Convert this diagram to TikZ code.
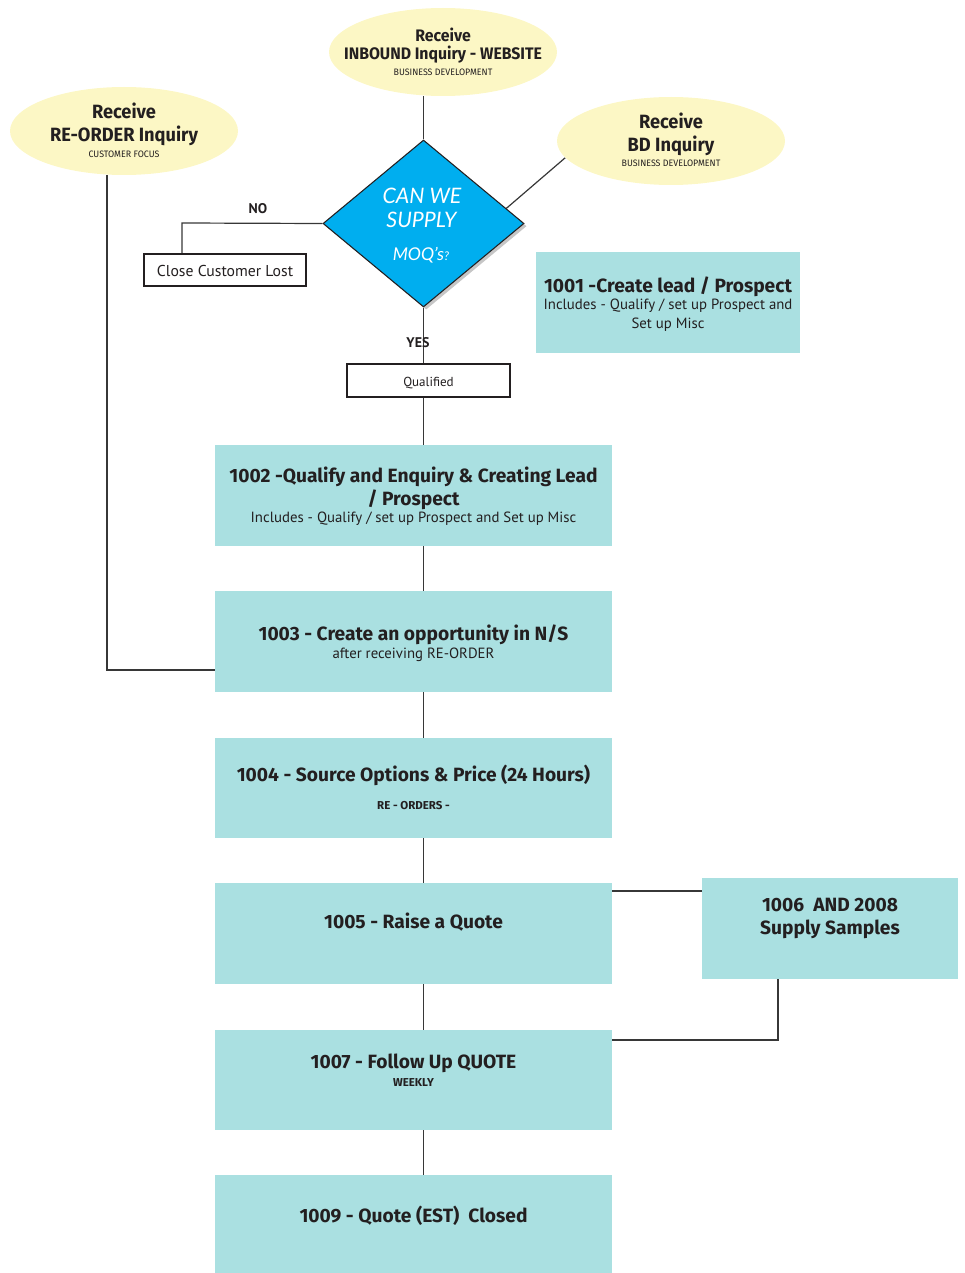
\documentclass[tikz,border=0pt]{standalone}
\usepackage{fontspec}
\setmainfont{PT Sans}
\newfontfamily\ttlfont{Fira Sans}
\newfontfamily\condfont[FakeStretch=0.95]{Fira Sans}
\newfontfamily\diafont{Lato}
\usetikzlibrary{shapes.geometric,shadows,backgrounds,calc}
\definecolor{boxc}{RGB}{170,224,225}
\definecolor{ellc}{RGB}{252,247,197}
\definecolor{diac}{RGB}{0,174,239}
\definecolor{ink}{RGB}{35,31,32}
\definecolor{linec}{RGB}{55,55,55}
\begin{document}
\begin{tikzpicture}[x=0.75pt,y=-0.75pt,
  every node/.style={text=ink},
  proc/.style={rectangle, fill=boxc, inner sep=0pt, minimum width=297.75pt, minimum height=75.75pt},
  ellnode/.style={ellipse, fill=ellc, inner sep=0pt, minimum width=171pt, minimum height=66pt},
  plainbox/.style={rectangle, draw=ink, line width=0.8pt, fill=white, inner sep=0pt},
  ttl/.style={anchor=base, inner sep=0pt, font={\ttlfont\fontsize{14.4}{17}\selectfont\bfseries}},
  sub/.style={anchor=base, inner sep=0pt, font={\fontsize{11.1}{13}\selectfont}},
  subb/.style={anchor=base, inner sep=0pt, font={\ttlfont\fontsize{8.6}{11}\selectfont\bfseries}},
  erecv/.style={anchor=base, inner sep=0pt, font={\condfont\fontsize{12.5}{15}\selectfont\bfseries}},
  ebig/.style={anchor=base, inner sep=0pt, font={\condfont\fontsize{12.5}{14}\selectfont\bfseries}},
  ebig2/.style={anchor=base, inner sep=0pt, font={\condfont\fontsize{14.4}{17}\selectfont\bfseries}},
  esmall/.style={anchor=base, inner sep=0pt, font={\condfont\fontsize{7}{9}\selectfont}},
  diatxt/.style={anchor=base, inner sep=0pt, text=white, font={\diafont\fontsize{16}{19}\selectfont\itshape}},
  lbl/.style={anchor=base, inner sep=0pt, font={\fontsize{10.5}{12}\selectfont\bfseries}},
  conn/.style={draw=linec, line width=0.9pt}
]
\useasboundingbox (0,0) rectangle (964,1273);

% ellipses
\node[ellnode] (inbound) at (443,52) {};
\node[ellnode] (reorder) at (124,131) {};
\node[ellnode] (bd) at (671,141) {};
\node[erecv] (t1a) at (443,42) {Receive};
\node[ebig] (t1b) at (443,59.5) {INBOUND Inquiry - WEBSITE};
\node[esmall] (t1c) at (443,76) {BUSINESS DEVELOPMENT};
\node[ebig2] (t2a) at (124,119) {Receive};
\node[ebig2] (t2b) at (124,142) {RE-ORDER Inquiry};
\node[esmall] (t2c) at (124,157.5) {CUSTOMER FOCUS};
\node[ebig2] (t3a) at (671,129) {Receive};
\node[ebig2] (t3b) at (671,151.5) {BD Inquiry};
\node[esmall] (t3c) at (671,166.5) {BUSINESS DEVELOPMENT};

% decision
\node[diamond, fill=diac, draw=ink, line width=0.8pt, inner sep=0pt,
      minimum width=150.75pt, minimum height=125.25pt,
      drop shadow={shadow xshift=2pt, shadow yshift=-2pt, opacity=0.45}] (dia) at (423.5,223.5) {};
\node[diatxt] (d1) at (422,203.3) {CAN WE};
\node[diatxt] (d2) at (421.5,227.3) {SUPPLY};
\node[diatxt] (d3) at (421,260) {\fontsize{13.2}{15}\selectfont MOQ’s{\fontsize{9}{10}\selectfont?}};

\node[lbl] (no) at (258,213.3) {NO};
\node[lbl] (yes) at (418,347.3) {YES};

\node[plainbox, minimum width=121.5pt, minimum height=24pt] (close) at (225,270) {};
\node[anchor=base, inner sep=0pt, font={\fontsize{11.8}{13}\selectfont}] (closet) at (225,276.5) {Close Customer Lost};
\node[plainbox, minimum width=122.25pt, minimum height=24.75pt] (qual) at (428.5,380.5) {};
\node[anchor=base, inner sep=0pt, font={\fontsize{9.8}{11}\selectfont}] (qualt) at (428.5,386) {Qualified};

% process boxes
\node[proc, minimum width=198pt] (b1001) at (668,302.5) {};
\node[ttl] (t1001) at (668,292.7) {1001 -Create lead / Prospect};
\node[sub] (s1001a) at (668,309) {Includes - Qualify / set up Prospect and};
\node[sub] (s1001b) at (668,328.7) {Set up Misc};

\node[proc] (b1002) at (413.5,495.5) {};
\node[ttl] (t1002a) at (413.5,482.7) {1002 -Qualify and Enquiry \& Creating Lead};
\node[ttl] (t1002b) at (413.5,505.7) {/ Prospect};
\node[sub] (s1002) at (413.5,522) {Includes - Qualify / set up Prospect and Set up Misc};

\node[proc] (b1003) at (413.5,641.5) {};
\node[ttl] (t1003) at (413.5,640) {1003 - Create an opportunity in N/S};
\node[sub] (s1003) at (413.5,658.7) {after receiving RE-ORDER};

\node[proc, minimum height=75pt] (b1004) at (413.5,788) {};
\node[ttl] (t1004) at (413.5,781.7) {1004 - Source Options \& Price (24 Hours)};
\node[subb] (s1004) at (413.5,809.3) {RE - ORDERS -};

\node[proc] (b1005) at (413.5,933.5) {};
\node[ttl] (t1005) at (413.5,928.5) {1005 - Raise a Quote};

\node[proc, minimum width=192pt] (b1006) at (830,928.5) {};
\node[ttl] (t1006a) at (830,911.7) {1006\ \ AND 2008};
\node[ttl] (t1006b) at (830,934) {Supply Samples};

\node[proc, minimum height=75pt] (b1007) at (413.5,1080) {};
\node[ttl] (t1007) at (413.5,1068.3) {1007 - Follow Up QUOTE};
\node[subb] (s1007) at (413.5,1086.7) {WEEKLY};

\node[proc, minimum height=73.5pt] (b1009) at (413.5,1224) {};
\node[ttl] (t1009) at (413.5,1222) {1009 - Quote (EST)\ \ Closed};

% connectors
\coordinate (nob) at (182,223);
\coordinate (rl) at (107,670);
\coordinate (sa) at (650,891);
\coordinate (sb) at (778,1040);
\begin{pgfonlayer}{background}
\draw[conn] (inbound.south -| dia.north) -- (dia.north);
\draw[conn] (bd.189) -- ($(dia.north)!0.82!(dia.east)$);
\draw[conn] (dia.west) -- (nob) -- (nob |- close.north);
\draw[conn] (dia.south) -- (dia.south |- qual.north);
\draw[conn] (dia.south |- qual.south) -- (dia.south |- b1002.north);
\draw[conn] (dia.south |- b1002.south) -- (dia.south |- b1003.north);
\draw[conn] (dia.south |- b1003.south) -- (dia.south |- b1004.north);
\draw[conn] (dia.south |- b1004.south) -- (dia.south |- b1005.north);
\draw[conn] (dia.south |- b1005.south) -- (dia.south |- b1007.north);
\draw[conn] (dia.south |- b1007.south) -- (dia.south |- b1009.north);
\draw[conn] (reorder.south -| rl) -- (rl) -- (rl -| b1003.west);
\draw[conn] (sa -| b1005.east) -- (sa -| b1006.west);
\draw[conn] (b1006.south -| sb) -- (sb) -- (sb -| b1007.east);
\end{pgfonlayer}
\end{tikzpicture}
\end{document}
